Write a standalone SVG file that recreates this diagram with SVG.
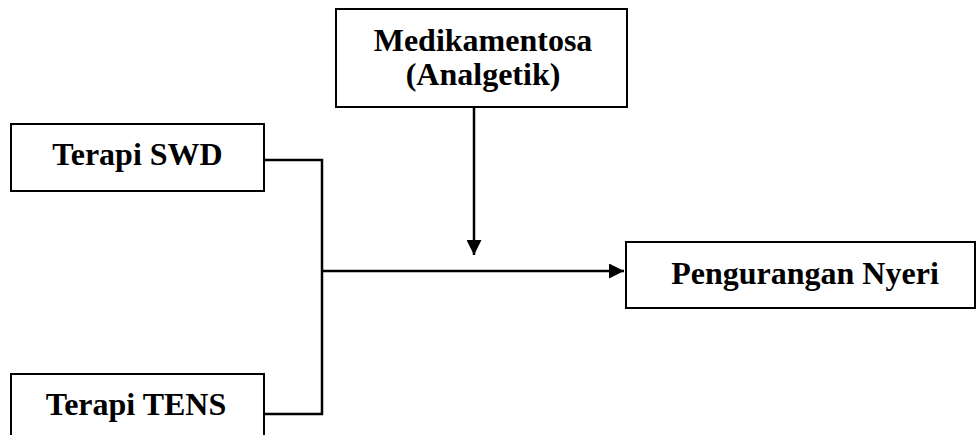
<svg xmlns="http://www.w3.org/2000/svg" width="977" height="435" viewBox="0 0 977 435">
<style>
.box{fill:#fff;stroke:#000;stroke-width:2}
.t{font-family:"Liberation Serif","Times New Roman",serif;font-weight:bold;font-size:32px;fill:#000;text-anchor:middle}
.c{fill:none;stroke:#000;stroke-width:2.5}
</style>
<defs>
<marker id="ah" viewBox="0 0 10 10" refX="10" refY="5" markerWidth="6" markerHeight="6" markerUnits="strokeWidth" orient="auto">
<path d="M0,0 L10,5 L0,10 Z" fill="#000"/>
</marker>
</defs>
<g id="connectors">
<polyline class="c" points="264,160 322,160 322,414 264,414"/>
<line class="c" x1="322" y1="271" x2="624" y2="271" marker-end="url(#ah)"/>
<line class="c" x1="474" y1="107" x2="474" y2="255" marker-end="url(#ah)"/>
</g>
<g id="swd">
<rect class="box" x="11" y="124" width="253" height="67"/>
<text class="t" x="137.5" y="165">Terapi SWD</text>
</g>
<g id="tens">
<rect class="box" x="11" y="374" width="253" height="80"/>
<text class="t" x="136" y="415">Terapi TENS</text>
</g>
<g id="medikamentosa">
<rect class="box" x="336" y="9" width="291" height="98"/>
<text class="t" x="483" y="51">Medikamentosa</text>
<text class="t" x="483" y="85">(Analgetik)</text>
</g>
<g id="pengurangan">
<rect class="box" x="626" y="242" width="349" height="66"/>
<text class="t" x="805" y="284">Pengurangan Nyeri</text>
</g>
</svg>
